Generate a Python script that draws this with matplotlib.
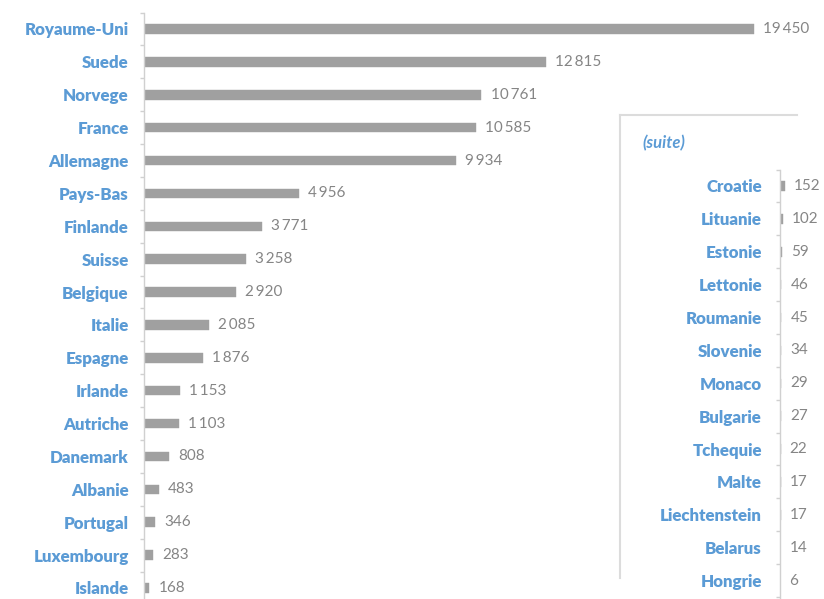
import matplotlib
matplotlib.use("Agg")
import matplotlib.pyplot as plt
from matplotlib.lines import Line2D
from matplotlib.ticker import FixedLocator

main_countries = ["Royaume-Uni", "Suede", "Norvege", "France", "Allemagne", "Pays-Bas",
                  "Finlande", "Suisse", "Belgique", "Italie", "Espagne", "Irlande",
                  "Autriche", "Danemark", "Albanie", "Portugal", "Luxembourg", "Islande"]
main_values = [19450, 12815, 10761, 10585, 9934, 4956, 3771, 3258, 2920, 2085,
               1876, 1153, 1103, 808, 483, 346, 283, 168]

suite_countries = ["Croatie", "Lituanie", "Estonie", "Lettonie", "Roumanie", "Slovenie",
                   "Monaco", "Bulgarie", "Tchequie", "Malte", "Liechtenstein", "Belarus",
                   "Hongrie"]
suite_values = [152, 102, 59, 46, 45, 34, 29, 27, 22, 17, 17, 14, 6]
suite_title = "(suite)"

W, H = 824, 599
LABEL_BLUE = "#5b9bd5"
BAR_GRAY = "#a0a0a0"
VAL_GRAY = "#858585"
AXIS_GRAY = "#d0d0d0"
FONT = "Lato"

def fmt(v):
    return f"{v:,}".replace(",", "\u2009")

fig = plt.figure(figsize=(W / 100, H / 100), dpi=100)

row = 32.88  # px per category
px_per_unit = 610 / 19450

def make_axes(x_left, y_center0, right_px):
    top_px = y_center0 - 0.5 * row
    bottom_px = H
    ax = fig.add_axes([x_left / W, (H - bottom_px) / H,
                       (right_px - x_left) / W, (bottom_px - top_px) / H])
    ax.set_xlim(0, (right_px - x_left) / px_per_unit)
    ax.set_ylim((bottom_px - y_center0) / row, -0.5)
    return ax

def style(ax, cats, vals, pad):
    y = list(range(len(cats)))
    ax.barh(y, vals, height=0.29, color=BAR_GRAY, left=0,
            edgecolor=BAR_GRAY, linewidth=0.3)
    for s in ["top", "right", "bottom"]:
        ax.spines[s].set_visible(False)
    ax.spines["left"].set_color(AXIS_GRAY)
    ax.spines["left"].set_linewidth(1.0)
    ax.set_xticks([])
    ax.set_yticks(y)
    ax.set_yticklabels(cats, fontfamily=FONT, fontweight="heavy", fontsize=12.2, color=LABEL_BLUE)
    ax.tick_params(axis="y", which="major", length=0, pad=pad)
    ax.yaxis.set_minor_locator(FixedLocator([i - 0.5 for i in range(len(cats) + 1)]))
    ax.tick_params(axis="y", which="minor", length=3, color=AXIS_GRAY, width=1)
    for yi, v in zip(y, vals):
        ax.annotate(fmt(v), xy=(v, yi), xytext=(6.5, 0), textcoords="offset points",
                    va="center", ha="left", fontfamily=FONT, fontsize=11, color=VAL_GRAY)
    ax.patch.set_alpha(0)

ax = make_axes(144, 29, 803)
style(ax, main_countries, main_values, pad=11)

# inset box
bx0, by0, bx1, by1 = 620, 115, 797, 578
fig.add_artist(Line2D([bx0 / W, bx1 / W], [(H - by0) / H, (H - by0) / H],
                      color="#dcdcdc", lw=1.5, transform=fig.transFigure))
fig.add_artist(Line2D([bx0 / W, bx0 / W], [(H - by0) / H, (H - by1) / H],
                      color="#dcdcdc", lw=1.5, transform=fig.transFigure))
fig.text(642 / W, (H - 143) / H, suite_title, fontfamily=FONT, fontstyle="italic",
         fontweight="bold", fontsize=12, color=LABEL_BLUE, va="center", ha="left")

ax2 = make_axes(780, 186, 824)
style(ax2, suite_countries, suite_values, pad=13)

fig.savefig("out.png", dpi=100)
